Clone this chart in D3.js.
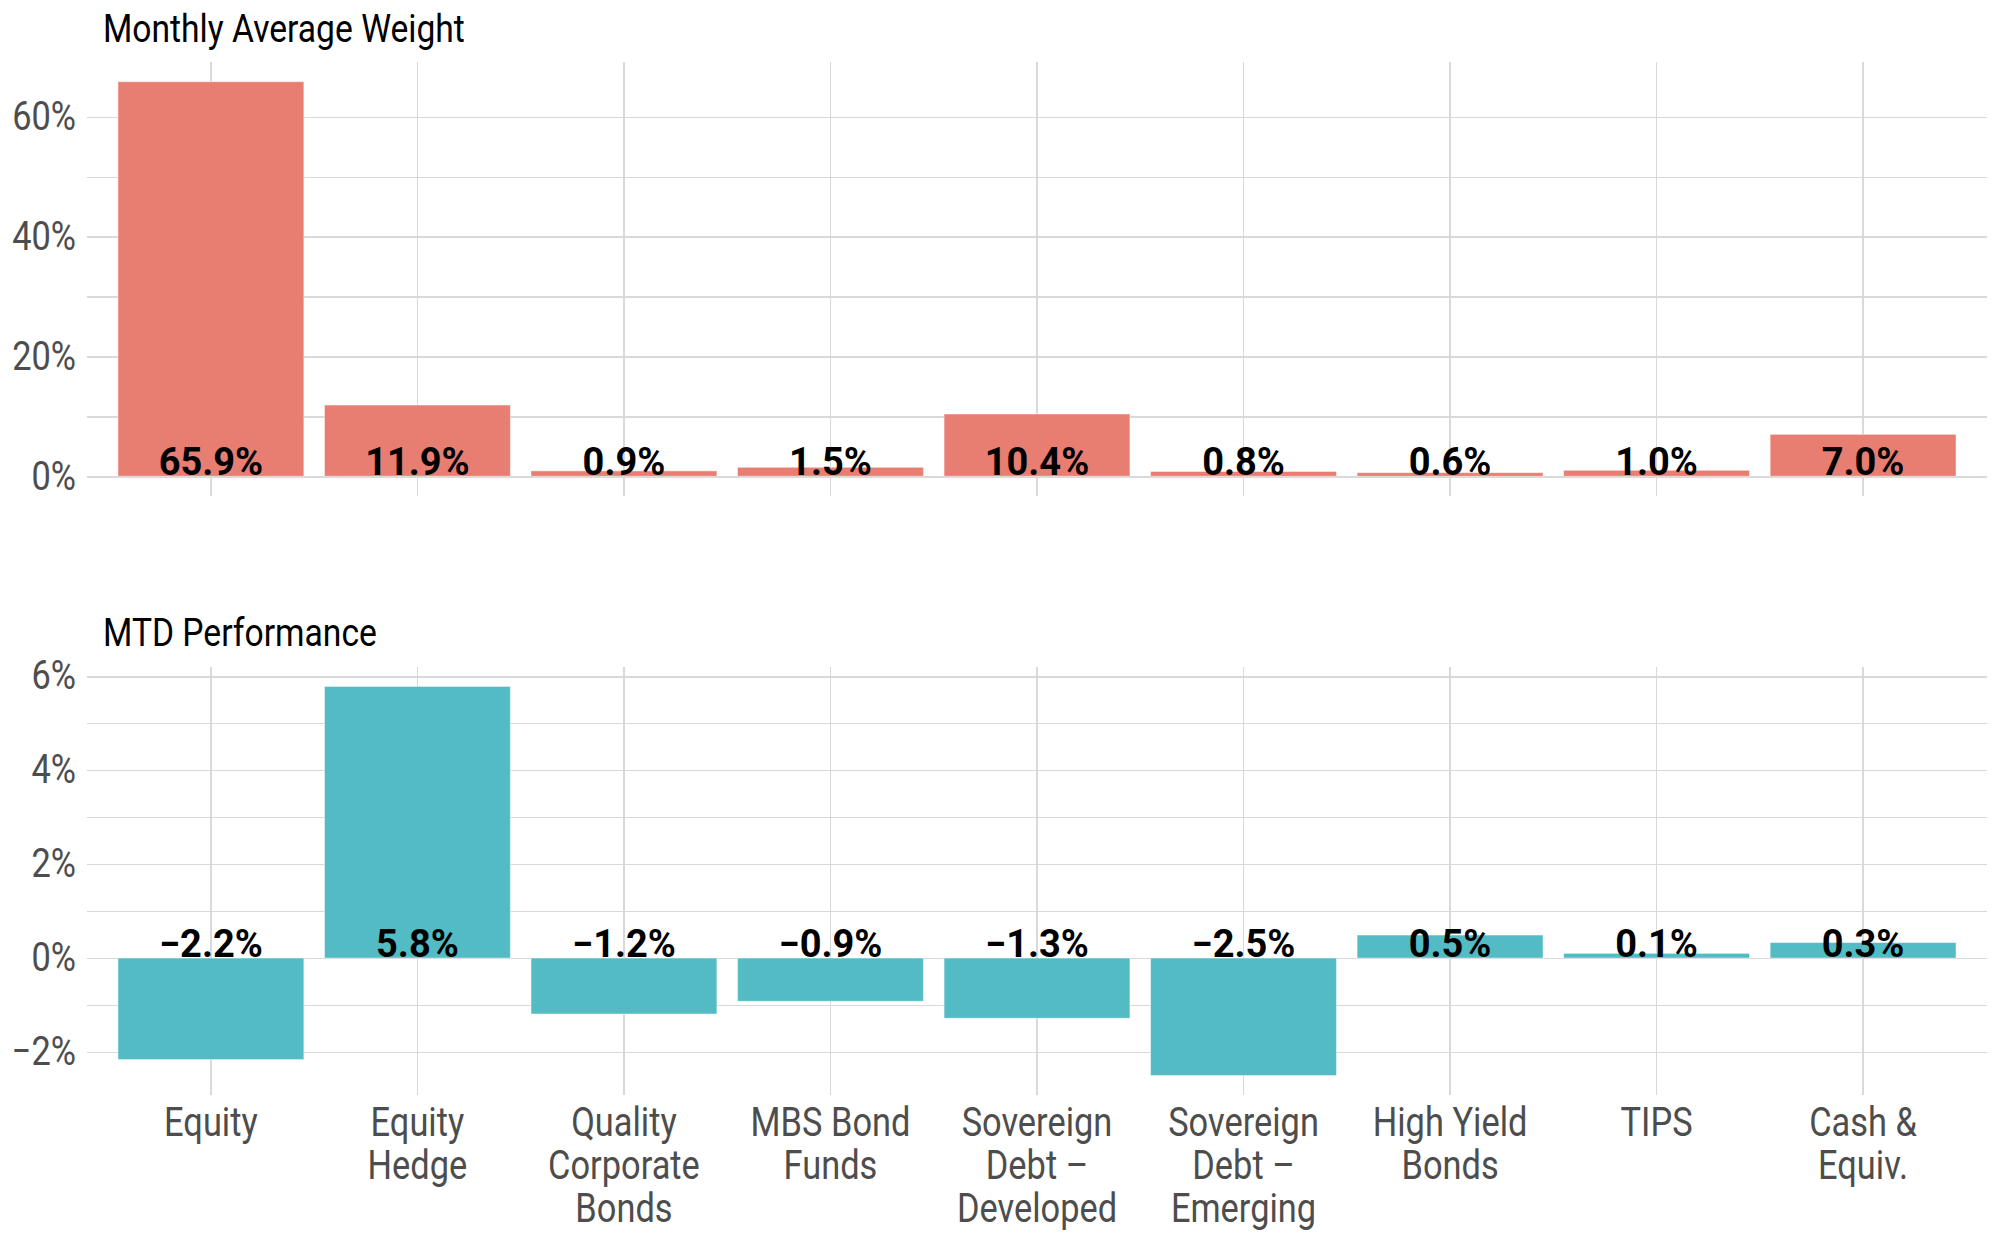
<!DOCTYPE html>
<html>
<head>
<meta charset="utf-8">
<title>Monthly Average Weight / MTD Performance</title>
<style>
  body { margin: 0; background: #fff; }
  svg text { font-family: Roboto, "Noto Sans", sans-serif; }
  .grid path, .cats path { display: none; }
  .grid line { stroke: #d9d9d9; shape-rendering: crispEdges; }
</style>
</head>
<body>
<svg id="chart" width="2000" height="1243"></svg>

<script src="https://cdn.jsdelivr.net/npm/d3@7"></script>
<script>
// data
var categories = ["Equity", "Equity Hedge", "Quality Corporate Bonds", "MBS Bond Funds",
  "Sovereign Debt – Developed", "Sovereign Debt – Emerging", "High Yield Bonds", "TIPS", "Cash & Equiv."];
var categoryLines = [["Equity"], ["Equity", "Hedge"], ["Quality", "Corporate", "Bonds"], ["MBS Bond", "Funds"],
  ["Sovereign", "Debt –", "Developed"], ["Sovereign", "Debt –", "Emerging"], ["High Yield", "Bonds"], ["TIPS"], ["Cash &", "Equiv."]];
var weightValues = [65.9, 11.9, 0.9, 1.5, 10.4, 0.8, 0.6, 1.0, 7.0];
var mtdValues = [-2.16, 5.78, -1.19, -0.92, -1.28, -2.5, 0.49, 0.1, 0.33];
var mtdLabels = [-2.2, 5.8, -1.2, -0.9, -1.3, -2.5, 0.5, 0.1, 0.3];
var weightTicks = [0, 20, 40, 60];
var weightMinor = [10, 30, 50];
var mtdTicks = [-2, 0, 2, 4, 6];
var mtdMinor = [-1, 1, 3, 5];

var svg = d3.select("#chart");
var left = 87, right = 1987;
var squeeze = 0.86;   // condensed look for the grey text
var titleSqueeze = 0.885;

var x = d3.scaleBand()
  .domain(categories)
  .range([left, right])
  .paddingInner(0.1)
  .paddingOuter(0.15);

var pct = d3.format(".0%");
var pct1 = d3.format(".1%");

function panel(opt) {
  var g = svg.append("g");
  var lo = d3.min(opt.values.concat([0])), hi = d3.max(opt.values.concat([0]));
  var pad = (hi - lo) * 0.05;
  var y = d3.scaleLinear().domain([lo - pad, hi + pad]).range([opt.y1, opt.y0]);

  // minor grid
  g.append("g")
    .attr("class", "grid")
    .attr("transform", "translate(" + left + ",0)")
    .call(d3.axisLeft(y).tickValues(opt.minor).tickSize(-(right - left)).tickFormat(""))
    .selectAll("line").attr("stroke-width", 1.4);

  // vertical grid
  g.append("g")
    .attr("class", "grid")
    .attr("transform", "translate(0," + opt.y1 + ")")
    .call(d3.axisBottom(x).tickSize(-(opt.y1 - opt.y0)).tickFormat(""))
    .selectAll("line").attr("stroke-width", 1.8);

  // major grid + labels
  var ax = g.append("g")
    .attr("class", "grid")
    .attr("transform", "translate(" + left + ",0)")
    .call(d3.axisLeft(y).tickValues(opt.ticks).tickSize(-(right - left)).tickPadding(12)
      .tickFormat(function(d) { return pct(d / 100); }));
  ax.selectAll("line").attr("stroke-width", 1.8);
  ax.selectAll("text")
    .attr("x", -11 / squeeze)
    .attr("transform", "scale(" + squeeze + ",1)")
    .attr("fill", "#4d4d4d")
    .style("font-size", "40px");

  // bars
  g.selectAll(".bar")
    .data(opt.values)
    .enter()
    .append("rect")
    .attr("class", "bar")
    .attr("x", function(d, i) { return x(categories[i]); })
    .attr("width", x.bandwidth())
    .attr("y", function(d) { return y(Math.max(0, d)); })
    .attr("height", function(d) { return Math.abs(y(d) - y(0)); })
    .attr("fill", opt.color)
    .attr("stroke", "#fff")
    .attr("stroke-opacity", 0.45)
    .attr("stroke-width", 1);

  // value labels sitting on the zero line
  g.selectAll(".val")
    .data(opt.labels)
    .enter()
    .append("text")
    .attr("class", "val")
    .attr("x", function(d, i) { return x(categories[i]) + x.bandwidth() / 2; })
    .attr("y", y(0) - 1)
    .attr("text-anchor", "middle")
    .style("font-size", "38px")
    .style("font-weight", "bold")
    .attr("fill", "#000")
    .text(function(d) { return pct1(d / 100); });

  // title
  g.append("text")
    .attr("transform", "translate(103," + opt.titleY + ") scale(" + titleSqueeze + ",1)")
    .style("font-size", "38px")
    .attr("fill", "#000")
    .text(opt.title);

  if (opt.showCats) {
    var cats = g.append("g")
      .attr("class", "cats")
      .attr("transform", "translate(0," + opt.y1 + ")")
      .call(d3.axisBottom(x).tickSize(0));
    cats.selectAll("text")
      .attr("y", 41)
      .attr("dy", null)
      .attr("transform", "scale(" + squeeze + ",1)")
      .attr("fill", "#4d4d4d")
      .style("font-size", "40px")
      .each(function(d, i) {
        var t = d3.select(this).text(null);
        categoryLines[i].forEach(function(line, j) {
          t.append("tspan").attr("x", 0).attr("dy", j ? 43 : 0).text(line);
        });
      });
  }
}

panel({ values: weightValues, labels: weightValues, ticks: weightTicks, minor: weightMinor,
  y0: 62, y1: 496, color: "#e87d72", title: "Monthly Average Weight", titleY: 42, showCats: false });

panel({ values: mtdValues, labels: mtdLabels, ticks: mtdTicks, minor: mtdMinor,
  y0: 667, y1: 1095, color: "#53bbc4", title: "MTD Performance", titleY: 646, showCats: true });
</script>
</body>
</html>
